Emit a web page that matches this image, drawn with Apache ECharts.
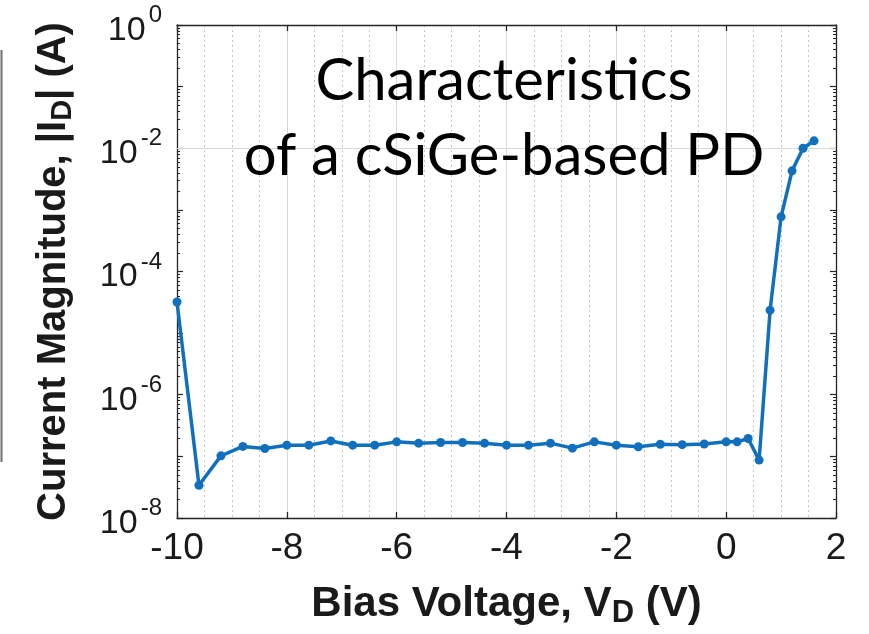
<!DOCTYPE html>
<html>
<head>
<meta charset="utf-8">
<script src="https://cdn.jsdelivr.net/npm/echarts@6/dist/echarts.min.js"></script>
<style>
  html, body { margin: 0; padding: 0; background: #ffffff; }
  #chart { width: 869px; height: 634px; }
</style>
</head>
<body>
<div id="chart"></div>
<script>
// Bias sweep of the photodiode (V) and measured current magnitude (A)
const biasVoltage = [
  -10, -9.6, -9.2, -8.8, -8.4, -8.0, -7.6, -7.2, -6.8, -6.4, -6.0, -5.6,
  -5.2, -4.8, -4.4, -4.0, -3.6, -3.2, -2.8, -2.4, -2.0, -1.6, -1.2, -0.8,
  -0.4, 0, 0.2, 0.4, 0.6, 0.8, 1.0, 1.2, 1.4, 1.6
];
const currentMagnitude = [
  3.2e-5, 3.4e-8, 1.02e-7, 1.45e-7, 1.34e-7, 1.52e-7, 1.52e-7, 1.78e-7, 1.52e-7, 1.52e-7, 1.72e-7, 1.64e-7,
  1.68e-7, 1.68e-7, 1.64e-7, 1.52e-7, 1.52e-7, 1.64e-7, 1.36e-7, 1.72e-7, 1.52e-7, 1.43e-7, 1.57e-7, 1.55e-7,
  1.59e-7, 1.72e-7, 1.72e-7, 1.95e-7, 8.7e-8, 2.36e-5, 7.7e-4, 4.3e-3, 1.0e-2, 1.32e-2
];

// Axis ranges and labelled ticks
const xRange = [-10, 2];
const xTickStep = 2;
const yRange = [1e-8, 1];
const yLabelExponents = [0, -2, -4, -6, -8];
const yGridValues = [1e-2, 1e-4, 1e-6];

const titleLines = ['Characteristics', 'of a cSiGe-based PD'];

const axisColor = '#262626';
const textColor = '#1a1a1a';
const lineBlue = '#1170bd';

const chart = echarts.init(document.getElementById('chart'));

const data = biasVoltage.map((v, i) => [v, currentMagnitude[i]]);

function decadeLabel(value) {
  const e = Math.round(Math.log10(value));
  if (yLabelExponents.indexOf(e) < 0) return '';
  return '{b|10}{s|' + e + '}';
}

const commonX = {
  type: 'value',
  min: xRange[0],
  max: xRange[1],
  interval: xTickStep,
  axisLine: { show: true, onZero: false, lineStyle: { color: axisColor, width: 1.3 } },
  axisTick: { show: true, inside: true, length: 6, lineStyle: { color: axisColor, width: 1.3 } },
  minorTick: { show: false, splitNumber: 4 }
};

const commonY = {
  type: 'log',
  logBase: 10,
  min: yRange[0],
  max: yRange[1],
  splitNumber: 8,
  axisLine: { show: true, onZero: false, lineStyle: { color: axisColor, width: 1.3 } },
  axisTick: { show: true, inside: true, length: 6, lineStyle: { color: axisColor, width: 1.2 } },
  minorTick: { show: true, splitNumber: 9, length: 3, lineStyle: { color: axisColor, width: 1 } },
  splitLine: { show: false }
};

const option = {
  backgroundColor: '#ffffff',
  animation: false,
  grid: { left: 177, right: 33, top: 25, bottom: 116, containLabel: false },
  xAxis: [
    Object.assign({}, commonX, {
      position: 'bottom',
      name: 'Bias Voltage, V{sub|D} (V)',
      nameLocation: 'middle',
      nameGap: 62,
      nameTextStyle: {
        fontFamily: 'Liberation Sans', fontWeight: 'bold', fontSize: 42, color: textColor,
        rich: {
          sub: { fontFamily: 'Liberation Sans', fontWeight: 'bold', fontSize: 31, color: textColor, padding: [18, 0, 0, 0] }
        }
      },
      axisLabel: { show: true, margin: 12, fontFamily: 'Liberation Sans', fontSize: 37, color: textColor },
      splitLine: { show: true, lineStyle: { color: '#d9d9d9', width: 1 } },
      minorSplitLine: { show: true, lineStyle: { color: '#c4c4c4', width: 1, type: [2, 3] } }
    }),
    Object.assign({}, commonX, {
      position: 'top',
      axisLabel: { show: false },
      splitLine: { show: false },
      minorSplitLine: { show: false }
    })
  ],
  yAxis: [
    Object.assign({}, commonY, {
      position: 'left',
      name: 'Current Magnitude, |I{sub|D}| (A)',
      nameLocation: 'middle',
      nameRotate: 90,
      nameGap: 100,
      nameTextStyle: {
        fontFamily: 'Liberation Sans', fontWeight: 'bold', fontSize: 40, color: textColor,
        rich: {
          sub: { fontFamily: 'Liberation Sans', fontWeight: 'bold', fontSize: 29, color: textColor, padding: [18, 0, 0, 0] }
        }
      },
      axisLabel: {
        show: true,
        margin: 15,
        formatter: decadeLabel,
        rich: {
          b: { fontFamily: 'Liberation Sans', fontSize: 34, color: textColor, padding: [11, 0, 0, 0] },
          s: { fontFamily: 'Liberation Sans', fontSize: 24, color: textColor, padding: [0, 0, 19, 3] }
        }
      }
    }),
    Object.assign({}, commonY, {
      position: 'right',
      axisLabel: { show: false }
    })
  ],
  series: [
    {
      // even-decade horizontal grid lines
      type: 'line',
      data: [],
      z: 1,
      silent: true,
      markLine: {
        silent: true,
        symbol: 'none',
        label: { show: false },
        lineStyle: { color: '#d9d9d9', width: 1, type: 'solid' },
        data: yGridValues.map(v => ({ yAxis: v }))
      }
    },
    {
      name: '|I_D|',
      type: 'line',
      data: data,
      z: 5,
      clip: false,
      symbol: 'circle',
      symbolSize: 9,
      showSymbol: true,
      itemStyle: { color: lineBlue },
      lineStyle: { color: lineBlue, width: 3.5 }
    }
  ],
  graphic: [
    {
      type: 'text',
      x: 504,
      y: 44,
      z: 10,
      style: {
        text: titleLines.join('\n'),
        fontFamily: 'Lato',
        fontSize: 58,
        lineHeight: 75,
        fill: '#000000',
        textAlign: 'center',
        textVerticalAlign: 'top'
      }
    },
    {
      type: 'line',
      shape: { x1: 1.5, y1: 50, x2: 1.5, y2: 462 },
      style: { stroke: '#6f6f6f', lineWidth: 2 }
    }
  ]
};

chart.setOption(option);
</script>
</body>
</html>
